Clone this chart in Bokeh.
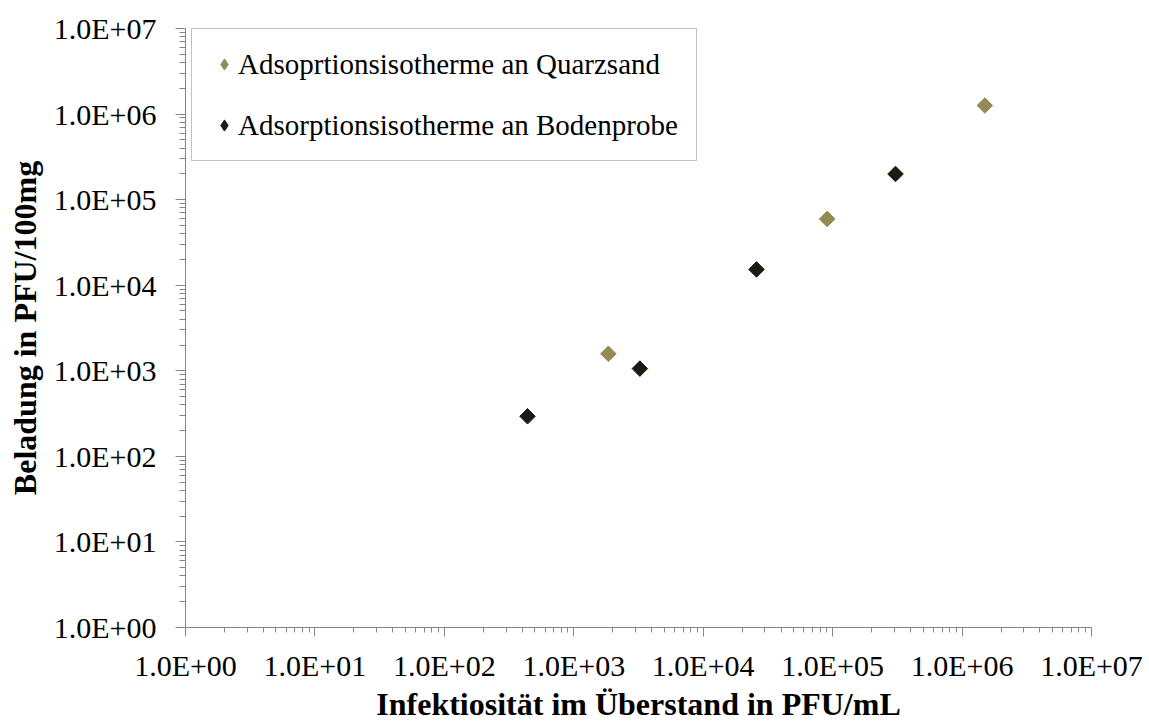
from bokeh.plotting import figure
from bokeh.models import FixedTicker, Legend, LegendItem, ColumnDataSource
from bokeh.embed import file_html
from bokeh.resources import INLINE

# ---- data ----
quarz_x = [1850, 90700, 1.50e6]
quarz_y = [1580, 59500, 1.26e6]
boden_x = [439, 3240, 25800, 306000]
boden_y = [294, 1060, 15300, 199500]

series_names = ["Adsoprtionsisotherme an Quarzsand", "Adsorptionsisotherme an Bodenprobe"]
series_colors = ["#948A54", "#1D1B10"]

major_ticks = [1e0, 1e1, 1e2, 1e3, 1e4, 1e5, 1e6, 1e7]
tick_labels = ["1.0E+00", "1.0E+01", "1.0E+02", "1.0E+03", "1.0E+04", "1.0E+05", "1.0E+06", "1.0E+07"]
minor_ticks = [m * 10 ** k for k in range(0, 7) for m in range(2, 10)]

x_title = "Infektiosität im Überstand in PFU/mL"
y_title = "Beladung in PFU/100mg"

FONT = "Liberation Serif"
AX = "#868686"

p = figure(x_axis_type="log", y_axis_type="log",
           x_range=(1e0, 1e7), y_range=(1e0, 1e7),
           width=1149, height=724,
           min_border_left=185, min_border_top=28, min_border_right=58, min_border_bottom=92,
           output_backend="svg", toolbar_location=None)
p.outline_line_color = None
p.xgrid.visible = False
p.ygrid.visible = False

overrides = {t: l for t, l in zip(major_ticks, tick_labels)}
for ax, (mo, mi) in ((p.xaxis[0], (9, 5)), (p.yaxis[0], (10, 6))):
    ax.ticker = FixedTicker(ticks=major_ticks, minor_ticks=minor_ticks)
    ax.major_label_overrides = overrides
    ax.axis_line_color = AX
    ax.major_tick_line_color = AX
    ax.minor_tick_line_color = AX
    ax.major_tick_in = 0
    ax.major_tick_out = mo
    ax.minor_tick_in = 0
    ax.minor_tick_out = mi
    ax.major_label_text_font = FONT
    ax.major_label_text_font_size = "30px"
    ax.major_label_text_color = "black"
    ax.axis_label_text_font = FONT
    ax.axis_label_text_font_size = "32px"
    ax.axis_label_text_font_style = "bold"
    ax.axis_label_text_color = "black"

p.xaxis.axis_label = x_title
p.xaxis.major_label_standoff = 12
p.xaxis.axis_label_standoff = 1
p.yaxis.axis_label = y_title
p.yaxis.major_label_standoff = 19
p.yaxis.axis_label_standoff = 8
p.yaxis.major_label_orientation = "horizontal"

src_q = ColumnDataSource(dict(x=quarz_x, y=quarz_y))
src_b = ColumnDataSource(dict(x=boden_x, y=boden_y))

# legend-key renderers (diamond key shape); drawn first, fully hidden under the plotted markers
l1 = p.scatter("x", "y", source=src_q, marker="diamond", size=9,
               fill_color=series_colors[0], line_color=series_colors[0])
l2 = p.scatter("x", "y", source=src_b, marker="diamond", size=9,
               fill_color=series_colors[1], line_color=series_colors[1])

# plotted markers: squares turned by 45 degrees
p.scatter("x", "y", source=src_q, marker="square", size=11, angle=45, angle_units="deg",
          fill_color=series_colors[0], line_color=series_colors[0])
p.scatter("x", "y", source=src_b, marker="square", size=11, angle=45, angle_units="deg",
          fill_color=series_colors[1], line_color=series_colors[1])

legend = Legend(items=[LegendItem(label=series_names[0], renderers=[l1]),
                       LegendItem(label=series_names[1], renderers=[l2])],
                location=(6, 466), margin=0, padding=18, spacing=27,
                glyph_width=28, glyph_height=30, label_standoff=0, label_height=34,
                label_text_font=FONT, label_text_font_size="29px", label_text_color="black",
                border_line_color=AX, border_line_width=1, background_fill_alpha=1)
p.add_layout(legend, "center")

open("out.html", "w").write(file_html(p, INLINE))
